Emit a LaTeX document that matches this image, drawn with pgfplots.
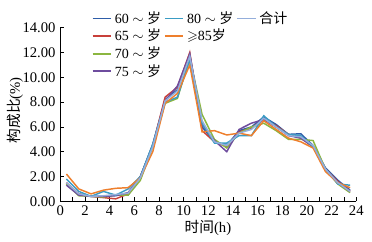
\documentclass[border=0pt]{standalone}
\usepackage{amssymb}
\usepackage{pgfplots}
\pgfplotsset{compat=1.18}
\usepackage{fontspec}
\setmainfont{Liberation Serif}
\newfontfamily\cjk{Noto Sans CJK SC}
\definecolor{cA}{HTML}{2E5DA8}
\definecolor{cB}{HTML}{C8403A}
\definecolor{cC}{HTML}{8BB640}
\definecolor{cD}{HTML}{6E4C9E}
\definecolor{cE}{HTML}{3A9CC4}
\definecolor{cF}{HTML}{EE7F2D}
\definecolor{cG}{HTML}{94AEDB}
\begin{document}
\begin{tikzpicture}
\useasboundingbox (-45.2pt,-29.8pt) rectangle (233.8pt,151pt);
\begin{axis}[
  scale only axis, width=222pt, height=130.2pt,
  xmin=0, xmax=24, ymin=0, ymax=14,
  axis x line*=bottom, axis y line*=left,
  axis line style={line width=0.7pt},
  tick align=inside,
  major tick length=3pt, minor tick length=3pt,
  xtick={0,2,...,24}, minor x tick num=1,
  ytick={0,2,...,14},
  tick style={black, line width=0.6pt},
  yticklabel style={/pgf/number format/.cd, fixed, fixed zerofill, precision=2},
  /pgf/number format/assume math mode=true,
  ticklabel style={font=\fontsize{11}{12}\selectfont},
  ylabel={{\cjk 构成比}(\%)},
  xlabel={{\cjk 时间}(h)},
  label style={font=\fontsize{11}{12}\selectfont},
  ylabel style={at={(axis description cs:-0.152,0.525)}, anchor=center, rotate=0},
  xlabel style={at={(axis description cs:0.499,-0.154)}, anchor=center},
  legend columns=3,
  legend style={draw=none, fill=none, at={(rel axis cs:0.105,1.11)}, anchor=north west,
    font=\fontsize{10.5}{11}\selectfont, inner sep=0pt, row sep=-1.2pt},
  legend cell align=left,
  every axis plot/.append style={line width=1.1pt},
]
\addplot[cA, forget plot] coordinates {(0.5,1.4)(1.5,0.6)(2.5,0.4)(3.5,0.4)(4.5,0.5)(5.5,0.5)(6.5,2.0)(7.5,4.6)(8.5,8.2)(9.5,9.0)(10.5,11.8)(11.5,6.0)(12.5,4.8)(13.5,4.5)(14.5,5.7)(15.5,6.0)(16.5,6.8)(17.5,6.2)(18.5,5.4)(19.5,5.45)(20.5,4.5)(21.5,2.7)(22.5,1.7)(23.5,0.9)};
\addplot[cB, forget plot] coordinates {(0.5,1.5)(1.5,0.6)(2.5,0.4)(3.5,0.3)(4.5,0.2)(5.5,0.6)(6.5,2.0)(7.5,4.5)(8.5,8.4)(9.5,9.2)(10.5,12.0)(11.5,5.7)(12.5,4.8)(13.5,4.4)(14.5,5.6)(15.5,5.9)(16.5,6.6)(17.5,6.1)(18.5,5.4)(19.5,5.1)(20.5,4.4)(21.5,2.6)(22.5,1.6)(23.5,0.8)};
\addplot[cC, forget plot] coordinates {(0.5,1.4)(1.5,0.45)(2.5,0.4)(3.5,0.35)(4.5,0.5)(5.5,0.5)(6.5,1.7)(7.5,4.4)(8.5,7.9)(9.5,8.3)(10.5,11.6)(11.5,7.0)(12.5,5.0)(13.5,4.3)(14.5,5.5)(15.5,6.0)(16.5,6.3)(17.5,5.7)(18.5,5.0)(19.5,5.0)(20.5,4.9)(21.5,2.6)(22.5,1.4)(23.5,0.7)};
\addplot[cD, forget plot] coordinates {(0.5,1.3)(1.5,0.5)(2.5,0.4)(3.5,0.4)(4.5,0.45)(5.5,0.7)(6.5,2.0)(7.5,4.5)(8.5,8.1)(9.5,9.3)(10.5,11.9)(11.5,6.2)(12.5,4.9)(13.5,4.0)(14.5,5.8)(15.5,6.3)(16.5,6.6)(17.5,6.0)(18.5,5.3)(19.5,5.1)(20.5,4.4)(21.5,2.6)(22.5,1.5)(23.5,0.8)};
\addplot[cE, forget plot] coordinates {(0.5,1.8)(1.5,0.8)(2.5,0.4)(3.5,0.8)(4.5,0.5)(5.5,1.0)(6.5,2.0)(7.5,4.6)(8.5,8.0)(9.5,8.4)(10.5,11.4)(11.5,6.3)(12.5,4.7)(13.5,4.7)(14.5,5.3)(15.5,5.3)(16.5,6.9)(17.5,6.0)(18.5,5.4)(19.5,5.3)(20.5,4.4)(21.5,2.6)(22.5,1.4)(23.5,1.3)};
\addplot[cF, forget plot] coordinates {(0.5,2.2)(1.5,1.0)(2.5,0.6)(3.5,0.9)(4.5,1.05)(5.5,1.1)(6.5,1.9)(7.5,4.0)(8.5,7.9)(9.5,8.7)(10.5,11.0)(11.5,5.6)(12.5,5.7)(13.5,5.35)(14.5,5.5)(15.5,5.3)(16.5,6.5)(17.5,5.8)(18.5,5.1)(19.5,4.8)(20.5,4.3)(21.5,2.4)(22.5,1.5)(23.5,1.1)};
\addplot[cG, forget plot] coordinates {(0.5,1.5)(1.5,0.6)(2.5,0.4)(3.5,0.45)(4.5,0.55)(5.5,0.65)(6.5,1.9)(7.5,4.4)(8.5,8.1)(9.5,8.9)(10.5,11.7)(11.5,6.5)(12.5,4.8)(13.5,4.5)(14.5,5.5)(15.5,5.8)(16.5,6.7)(17.5,6.0)(18.5,5.3)(19.5,5.2)(20.5,4.5)(21.5,2.6)(22.5,1.5)(23.5,0.8)};
\addlegendimage{legend image code/.code={\draw[cA, line width=1.4pt] (0pt,0pt) -- (14pt,0pt);}}\addlegendentry{60 $\sim$ {\cjk 岁}\hspace{15pt}}
\addlegendimage{legend image code/.code={\draw[cE, line width=1.4pt] (0pt,0pt) -- (14pt,0pt);}}\addlegendentry{80 $\sim$ {\cjk 岁}\hspace{15pt}}
\addlegendimage{legend image code/.code={\draw[cG, line width=1.4pt] (0pt,0pt) -- (14pt,0pt);}}\addlegendentry{{\cjk 合计}}
\addlegendimage{legend image code/.code={\draw[cB, line width=1.4pt] (0pt,0pt) -- (14pt,0pt);}}\addlegendentry{65 $\sim$ {\cjk 岁}}
\addlegendimage{legend image code/.code={\draw[cF, line width=1.4pt] (0pt,0pt) -- (14pt,0pt);}}\addlegendentry{$\geqslant$85{\cjk 岁}}
\addlegendimage{empty legend}\addlegendentry{}
\addlegendimage{legend image code/.code={\draw[cC, line width=1.4pt] (0pt,0pt) -- (14pt,0pt);}}\addlegendentry{70 $\sim$ {\cjk 岁}}
\addlegendimage{empty legend}\addlegendentry{}
\addlegendimage{empty legend}\addlegendentry{}
\addlegendimage{legend image code/.code={\draw[cD, line width=1.4pt] (0pt,0pt) -- (14pt,0pt);}}\addlegendentry{75 $\sim$ {\cjk 岁}}
\end{axis}
\end{tikzpicture}
\end{document}
